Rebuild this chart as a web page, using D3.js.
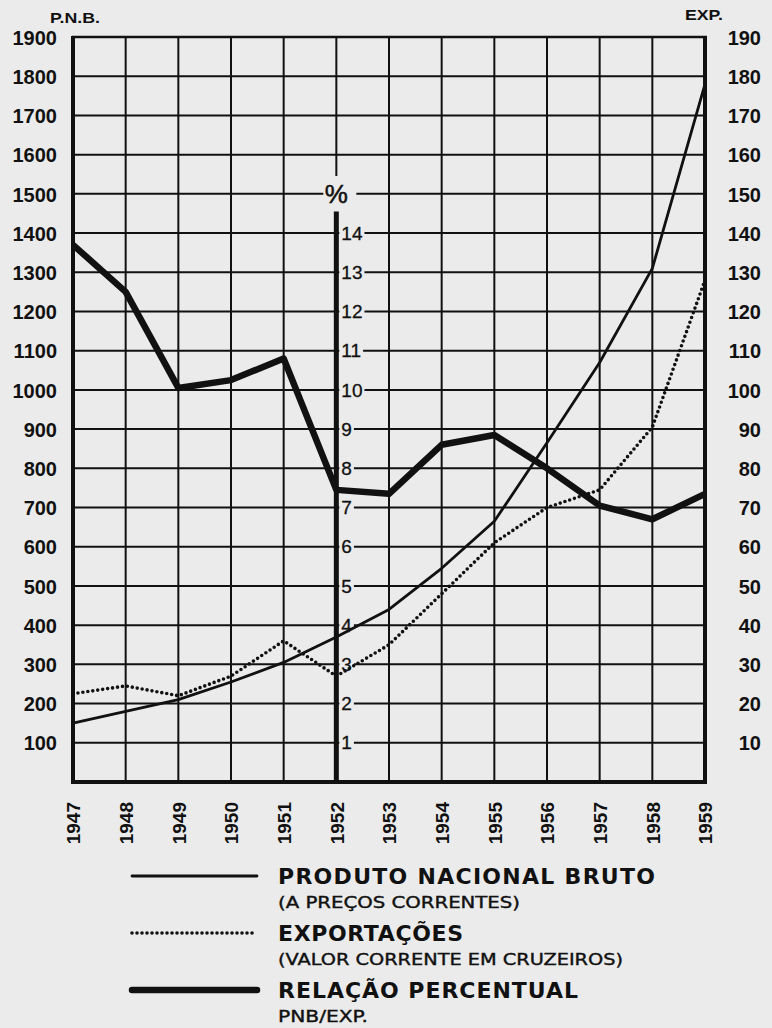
<html>

<head>
    <title>PNB e Exportações 1947-1959</title>
    <script src="https://d3js.org/d3.v7.min.js"></script>
    <style>
        body {
            margin: 0;
            background: #ebebeb;
        }

        svg {
            display: block;
        }

        text {
            fill: #111;
            font-family: "Liberation Sans", Arial, sans-serif;
        }
    </style>
</head>

<body>
    <svg id="chart"></svg>
    <script>
        // valores
        var years = [1947, 1948, 1949, 1950, 1951, 1952, 1953, 1954, 1955, 1956, 1957, 1958, 1959];
        var pnb = [150, 180, 210, 255, 305, 370, 440, 545, 665, 865, 1070, 1310, 1780];
        var exportacoes = [22.5, 24.5, 22, 27, 36, 27, 35, 48, 61, 70, 74.5, 90.5, 128];
        var relacao = [13.7, 12.5, 10.05, 10.25, 10.8, 7.45, 7.35, 8.6, 8.85, 8.0, 7.05, 6.7, 7.35];

        var pnbTicks = [100, 200, 300, 400, 500, 600, 700, 800, 900, 1000, 1100, 1200, 1300, 1400, 1500, 1600, 1700, 1800, 1900];
        var expTicks = [10, 20, 30, 40, 50, 60, 70, 80, 90, 100, 110, 120, 130, 140, 150, 160, 170, 180, 190];
        var pctTicks = [1, 2, 3, 4, 5, 6, 7, 8, 9, 10, 11, 12, 13, 14];

        var legendTitles = ["PRODUTO NACIONAL BRUTO", "EXPORTAÇÕES", "RELAÇÃO PERCENTUAL"];
        var legendNotes = ["(A PREÇOS CORRENTES)", "(VALOR CORRENTE EM CRUZEIROS)", "PNB/EXP."];

        var width = 772, height = 1028;
        var pLeft = 73, pRight = 705, pTop = 37, pBottom = 782;
        var bg = "#ebebeb", ink = "#111";

        var x = d3.scaleLinear().domain([1947, 1959]).range([pLeft, pRight]);
        var y = d3.scaleLinear().domain([0, 1900]).range([pBottom, pTop]);
        var yExp = d3.scaleLinear().domain([0, 190]).range([pBottom, pTop]);
        var yPct = d3.scaleLinear().domain([0, 19]).range([pBottom, pTop]);

        var svg = d3.select("#chart").attr("width", width).attr("height", height);
        svg.append("rect").attr("width", width).attr("height", height).attr("fill", bg);

        // grade
        svg.append("g").selectAll("line")
            .data(pnbTicks.filter(function (d) { return d < 1900; }))
            .enter().append("line")
            .attr("x1", pLeft).attr("x2", pRight)
            .attr("y1", function (d) { return y(d); })
            .attr("y2", function (d) { return y(d); })
            .attr("stroke", ink).attr("stroke-width", 2);

        svg.append("g").selectAll("line")
            .data(years.filter(function (d) { return d != 1947 && d != 1959 && d != 1952; }))
            .enter().append("line")
            .attr("x1", function (d) { return x(d); })
            .attr("x2", function (d) { return x(d); })
            .attr("y1", pTop).attr("y2", pBottom)
            .attr("stroke", ink).attr("stroke-width", 2);

        // 1952: fina em cima, eixo % grosso em baixo
        svg.append("line")
            .attr("x1", x(1952)).attr("x2", x(1952))
            .attr("y1", pTop).attr("y2", yPct(15.45))
            .attr("stroke", ink).attr("stroke-width", 2);

        // moldura
        svg.append("line").attr("x1", pLeft - 1).attr("x2", pRight + 2).attr("y1", pTop).attr("y2", pTop)
            .attr("stroke", ink).attr("stroke-width", 2.5);
        svg.append("line").attr("x1", pLeft - 1).attr("x2", pRight + 2).attr("y1", pBottom).attr("y2", pBottom)
            .attr("stroke", ink).attr("stroke-width", 4);
        svg.append("line").attr("x1", pLeft).attr("x2", pLeft).attr("y1", pTop - 1).attr("y2", pBottom + 2)
            .attr("stroke", ink).attr("stroke-width", 4);
        svg.append("line").attr("x1", pRight).attr("x2", pRight).attr("y1", pTop - 1).attr("y2", pBottom + 2)
            .attr("stroke", ink).attr("stroke-width", 4);

        // simbolo %
        svg.append("rect")
            .attr("x", x(1952) - 13).attr("y", yPct(15.45))
            .attr("width", 33).attr("height", yPct(14.55) - yPct(15.45))
            .attr("fill", bg);
        svg.append("text")
            .attr("x", x(1952)).attr("y", yPct(15))
            .attr("dy", "0.35em")
            .attr("text-anchor", "middle")
            .style("font-size", "26px")
            .style("stroke", ink).style("stroke-width", 0.5)
            .text("%");

        // rotulos do eixo %
        var pct = svg.append("g").selectAll("g").data(pctTicks).enter().append("g");
        pct.append("rect").attr("class", "pctbg");
        pct.append("text")
            .attr("x", x(1952) + 5)
            .attr("y", function (d) { return yPct(d); })
            .attr("dy", "0.35em")
            .style("font-size", "19px")
            .style("stroke", ink).style("stroke-width", 0.3)
            .text(function (d) { return d; });
        pct.each(function () {
            var g = d3.select(this);
            var t = g.select("text").node();
            var w = t.getComputedTextLength();
            var d = g.datum();
            g.select("rect")
                .attr("x", x(1952) + 3).attr("y", yPct(d) - 9)
                .attr("width", w + 4).attr("height", 18)
                .attr("fill", bg);
        });

        svg.append("line")
            .attr("x1", x(1952)).attr("x2", x(1952))
            .attr("y1", yPct(14.55)).attr("y2", pBottom)
            .attr("stroke", ink).attr("stroke-width", 5);

        // eixos
        var axL = svg.append("g").attr("transform", "translate(57,0)")
            .call(d3.axisLeft(y).tickValues(pnbTicks).tickSize(0).tickPadding(0).tickFormat(d3.format("d")));
        axL.select(".domain").remove();
        axL.selectAll("text")
            .attr("dy", "0.36em")
            .style("font-family", "'Liberation Sans', Arial, sans-serif")
            .style("font-size", "20px").style("font-weight", "bold").style("fill", ink);

        var axR = svg.append("g").attr("transform", "translate(761,0)")
            .call(d3.axisRight(yExp).tickValues(expTicks).tickSize(0).tickPadding(0).tickFormat(d3.format("d")));
        axR.select(".domain").remove();
        axR.selectAll("text")
            .attr("text-anchor", "end")
            .attr("dy", "0.36em")
            .style("font-family", "'Liberation Sans', Arial, sans-serif")
            .style("font-size", "20px").style("font-weight", "bold").style("fill", ink);

        var axB = svg.append("g").attr("transform", "translate(0," + pBottom + ")")
            .call(d3.axisBottom(x).tickValues(years).tickFormat(d3.format("d")).tickSize(0));
        axB.select(".domain").remove();
        axB.selectAll("text")
            .attr("transform", "rotate(-90)")
            .attr("text-anchor", "end")
            .attr("x", -20).attr("y", 0)
            .attr("dy", "0.36em")
            .style("font-family", "'Liberation Sans', Arial, sans-serif")
            .style("font-size", "19px").style("font-weight", "bold").style("fill", ink);

        svg.append("text").attr("x", 50).attr("y", 23)
            .attr("textLength", 50).attr("lengthAdjust", "spacingAndGlyphs")
            .style("font-size", "14px").style("font-weight", "bold").text("P.N.B.");
        svg.append("text").attr("x", 685).attr("y", 20)
            .attr("textLength", 38).attr("lengthAdjust", "spacingAndGlyphs")
            .style("font-size", "15px").style("font-weight", "bold").text("EXP.");

        // series
        var linePnb = d3.line()
            .x(function (d, i) { return x(years[i]); })
            .y(function (d) { return y(d); });
        var lineExp = d3.line()
            .x(function (d, i) { return x(years[i]); })
            .y(function (d) { return yExp(d); });
        var linePct = d3.line()
            .x(function (d, i) { return x(years[i]); })
            .y(function (d) { return yPct(d); });

        svg.append("path").datum(exportacoes)
            .attr("d", lineExp)
            .attr("fill", "none").attr("stroke", ink)
            .attr("stroke-width", 3.6)
            .attr("stroke-linecap", "round")
            .attr("stroke-dasharray", "0 5");

        svg.append("path").datum(pnb)
            .attr("d", linePnb)
            .attr("fill", "none").attr("stroke", ink)
            .attr("stroke-width", 2.8)
            .attr("stroke-linejoin", "round");

        svg.append("path").datum(relacao)
            .attr("d", linePct)
            .attr("fill", "none").attr("stroke", ink)
            .attr("stroke-width", 6.5)
            .attr("stroke-linejoin", "round");

        // legenda
        var legLineY = [876, 933, 990];
        var titleWidths = [377, 185, 300];
        var noteWidths = [242, 345, 90];
        var legStroke = [{ w: 2.8, dash: null }, { w: 3.6, dash: "0 5" }, { w: 6.5, dash: null }];

        var leg = svg.append("g").selectAll("g").data(legendTitles).enter().append("g");
        leg.append("line")
            .attr("x1", 132).attr("x2", 257)
            .attr("y1", function (d, i) { return legLineY[i]; })
            .attr("y2", function (d, i) { return legLineY[i]; })
            .attr("stroke", ink)
            .attr("stroke-width", function (d, i) { return legStroke[i].w; })
            .attr("stroke-linecap", "round")
            .attr("stroke-dasharray", function (d, i) { return legStroke[i].dash; });
        leg.append("text")
            .attr("x", 278)
            .attr("y", function (d, i) { return legLineY[i] + 8; })
            .attr("textLength", function (d, i) { return titleWidths[i]; })
            .attr("lengthAdjust", "spacing")
            .style("font-family", "'DejaVu Sans', sans-serif")
            .style("font-size", "22px").style("font-weight", "bold")
            .text(function (d) { return d; });
        leg.append("text")
            .attr("x", 278)
            .attr("y", function (d, i) { return legLineY[i] + 32; })
            .attr("textLength", function (d, i) { return noteWidths[i]; })
            .attr("lengthAdjust", "spacingAndGlyphs")
            .style("font-family", "'DejaVu Sans', sans-serif")
            .style("font-size", "16px")
            .style("stroke", ink).style("stroke-width", 0.4)
            .text(function (d, i) { return legendNotes[i]; });
    </script>
</body>

</html>
